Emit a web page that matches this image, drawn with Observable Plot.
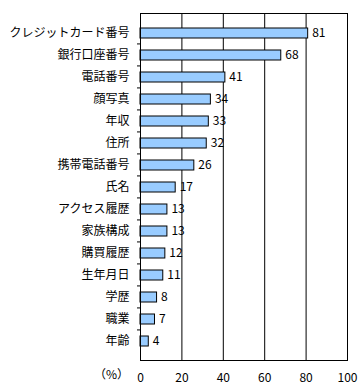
<!DOCTYPE html>
<html><head><meta charset="utf-8">
<script src="https://cdn.jsdelivr.net/npm/d3@7"></script>
<script src="https://cdn.jsdelivr.net/npm/@observablehq/plot@0.6"></script>
<style>body{margin:0;background:#fff}</style>
</head><body><div id="chart"></div>
<script>
const categories = ["クレジットカード番号","銀行口座番号","電話番号","顔写真","年収","住所","携帯電話番号","氏名","アクセス履歴","家族構成","購買履歴","生年月日","学歴","職業","年齢"];
const values = [81,68,41,34,33,32,26,17,13,13,12,11,8,7,4];
const xTicks = [0,20,40,60,80,100];
const unitLabel = "（%）";

const data = categories.map((c,i)=>({c, v: values[i]}));
const W = 360, H = 390, mt = 13, mb = 30, ml = 140, mr = 13;
const step = (H - mt - mb) / categories.length;

const chart = Plot.plot({
  width: W, height: H,
  marginTop: mt, marginBottom: mb, marginLeft: ml, marginRight: mr,
  style: {fontFamily: "'Noto Sans CJK JP', sans-serif", fontSize: "12px", color: "#000", background: "#fff"},
  x: {domain: [0,100]},
  y: {domain: categories, padding: 0.56},
  marks: [
    Plot.gridX(xTicks, {stroke: "#000", strokeOpacity: 1}),
    Plot.barX(data, {x: "v", y: "c", fill: "#99CCFF", stroke: "#000", strokeWidth: 1}),
    Plot.text(data, {x: "v", y: "c", text: d => String(d.v), dx: 4, textAnchor: "start", fontSize: 12, fill: "#000"}),
    Plot.frame({stroke: "#000"}),
    Plot.axisY({tickSize: 0, tickPadding: 11, fontSize: 12, label: null}),
    Plot.axisY(categories.slice(1), {tickSize: 3, text: null, dy: -step/2, label: null}),
    Plot.axisX(xTicks, {tickSize: 0, tickPadding: 13, fontSize: 12, label: null}),
    Plot.text([unitLabel], {frameAnchor: "bottom-left", textAnchor: "middle", dx: -29, dy: 18, fontSize: 12, fill: "#000"})
  ]
});
document.getElementById("chart").appendChild(chart);
</script></body></html>
